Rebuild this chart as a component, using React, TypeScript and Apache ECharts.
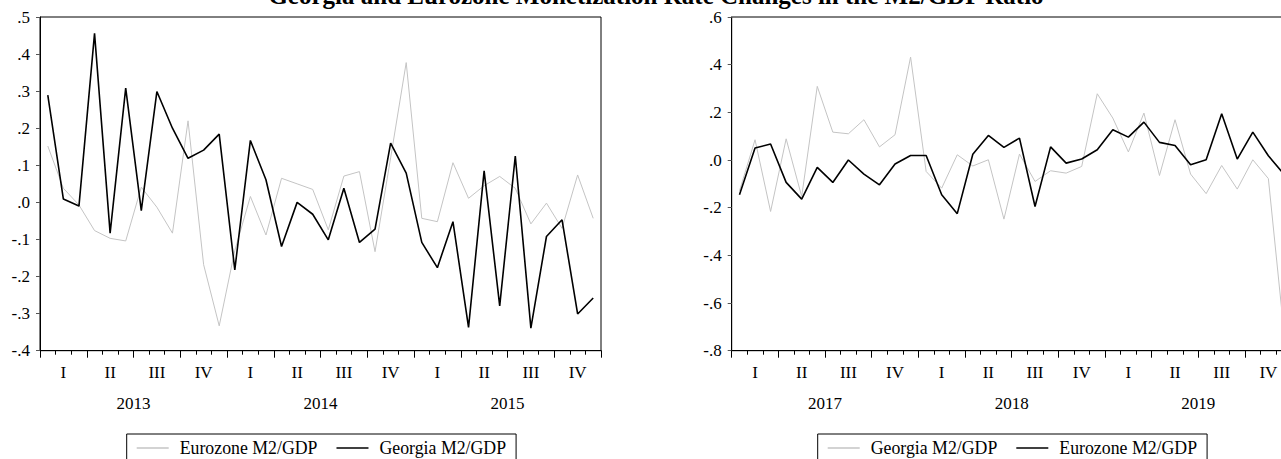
import React, { useEffect, useRef } from "react";
import * as echarts from "echarts";

const titleText = "Georgia and Eurozone Monetization Rate Changes in the M2/GDP Ratio";

const leftYears = ["2013", "2014", "2015"];
const rightYears = ["2017", "2018", "2019"];
const quarterLabels = ["I", "II", "III", "IV"];
const monthNames = ["M01", "M02", "M03", "M04", "M05", "M06", "M07", "M08", "M09", "M10", "M11", "M12"];

// Left panel (2013-2015)
const leftEurozone = [
  0.152, 0.038, -0.007, -0.076, -0.097, -0.104, 0.041, -0.013, -0.083, 0.22, -0.168, -0.333,
  -0.13, 0.016, -0.088, 0.065, 0.05, 0.035, -0.074, 0.071, 0.083, -0.133, 0.12, 0.377,
  -0.043, -0.052, 0.107, 0.011, 0.045, 0.07, 0.038, -0.058, -0.002, -0.07, 0.074, -0.043,
];
const leftGeorgia = [
  0.289, 0.009, -0.01, 0.456, -0.083, 0.308, -0.022, 0.299, 0.2, 0.119, 0.141, 0.184,
  -0.182, 0.167, 0.061, -0.119, 0.0, -0.032, -0.101, 0.038, -0.108, -0.072, 0.16, 0.079,
  -0.108, -0.176, -0.052, -0.337, 0.085, -0.279, 0.125, -0.339, -0.092, -0.047, -0.301, -0.258,
];

// Right panel (2017-2019)
const rightGeorgia = [
  -0.13, 0.085, -0.216, 0.089, -0.153, 0.309, 0.117, 0.11, 0.169, 0.055, 0.106, 0.432,
  -0.048, -0.118, 0.022, -0.025, 0.001, -0.248, 0.025, -0.09, -0.045, -0.055, -0.027, 0.278,
  0.176, 0.034, 0.197, -0.065, 0.169, -0.059, -0.141, -0.023, -0.122, 0.001, -0.078, -0.72,
];
const rightEurozone = [
  -0.146, 0.05, 0.067, -0.094, -0.164, -0.031, -0.094, 0.0, -0.059, -0.104, -0.017, 0.019,
  0.019, -0.146, -0.225, 0.024, 0.103, 0.053, 0.092, -0.195, 0.055, -0.013, 0.004, 0.043,
  0.127, 0.096, 0.159, 0.074, 0.061, -0.02, 0.001, 0.194, 0.004, 0.117, 0.018, -0.06,
];

const FONT = "'Liberation Serif', 'Times New Roman', serif";
const GREY = "#c4c4c4";
const BLACK = "#000000";

const leftCats = leftYears.flatMap((y) => monthNames.map((m) => y + m));
const rightCats = rightYears.flatMap((y) => monthNames.map((m) => y + m));

const yFmt = (v: number) => {
  if (Math.abs(v) < 1e-9) return ".0";
  const s = v.toFixed(1);
  return s.startsWith("-") ? "-" + s.slice(2) : s.slice(1);
};

function xAxesFor(gridIndex: number, cats: string[], years: string[]) {
  return [
    {
      gridIndex,
      type: "category",
      position: "bottom",
      data: cats,
      boundaryGap: true,
      axisLine: { show: true, onZero: false, lineStyle: { color: BLACK, width: 1 } },
      axisTick: { show: true, interval: (i: number) => i % 3 === 0, length: 7, lineStyle: { color: BLACK } },
      axisLabel: {
        interval: (i: number) => i % 3 === 1,
        formatter: (_v: string, i: number) => quarterLabels[Math.floor(i / 3) % 4],
        margin: 13,
        fontFamily: FONT,
        fontSize: 17,
        color: BLACK,
      },
      splitLine: { show: false },
    },
    {
      gridIndex,
      type: "category",
      position: "bottom",
      data: cats,
      boundaryGap: true,
      axisLine: { show: false, onZero: false },
      axisTick: { show: true, interval: 0, length: 4, lineStyle: { color: BLACK } },
      axisLabel: { show: false },
      splitLine: { show: false },
    },
    {
      gridIndex,
      type: "category",
      position: "bottom",
      data: years,
      boundaryGap: true,
      axisLine: { show: false, onZero: false },
      axisTick: { show: false },
      axisLabel: { margin: 44, fontFamily: FONT, fontSize: 17, color: BLACK },
      splitLine: { show: false },
    },
  ];
}

function yAxisFor(gridIndex: number, min: number, max: number, interval: number) {
  return {
    gridIndex,
    type: "value",
    min,
    max,
    interval,
    axisLine: { show: true, onZero: false, lineStyle: { color: BLACK, width: 1 } },
    axisTick: { show: true, length: 4, lineStyle: { color: "#555" } },
    axisLabel: { formatter: yFmt, margin: 10, fontFamily: FONT, fontSize: 17, color: BLACK },
    splitLine: { show: false },
  };
}

function legendFor(left: number, names: string[]) {
  return {
    left,
    top: 434,
    orient: "horizontal",
    data: names.map((n) => ({ name: n, icon: "rect" })),
    itemWidth: 32,
    itemHeight: 1.5,
    itemGap: 19,
    padding: [5, 10, 25, 10],
    borderColor: BLACK,
    borderWidth: 1,
    selectedMode: false,
    formatter: (n: string) => n.split("|")[0],
    textStyle: { fontFamily: FONT, fontSize: 17.8, color: BLACK, padding: [0, 0, 0, 6] },
  };
}

export default function App() {
  const ref = useRef<HTMLDivElement>(null);

  useEffect(() => {
    if (!ref.current) return;
    const chart = echarts.init(ref.current, undefined, { renderer: "svg" });
    const option: any = {
      animation: false,
      backgroundColor: "#ffffff",
      graphic: [
        {
          type: "text",
          x: 656,
          y: -17,
          style: {
            text: titleText,
            fontFamily: FONT,
            fontSize: 25,
            fontWeight: "bold",
            fill: BLACK,
            align: "center",
            verticalAlign: "top",
          },
        },
      ],
      grid: [
        { left: 40, top: 17, width: 561, height: 333.7, show: true, borderColor: BLACK, borderWidth: 1, backgroundColor: "transparent" },
        { left: 731.7, top: 17, width: 560, height: 333.7, show: true, borderColor: BLACK, borderWidth: 1, backgroundColor: "transparent" },
      ],
      xAxis: [...xAxesFor(0, leftCats, leftYears), ...xAxesFor(1, rightCats, rightYears)],
      yAxis: [yAxisFor(0, -0.4, 0.5, 0.1), yAxisFor(1, -0.8, 0.6, 0.2)],
      legend: [
        legendFor(126.7, ["Eurozone M2/GDP", "Georgia M2/GDP"]),
        legendFor(817.7, ["Georgia M2/GDP|R", "Eurozone M2/GDP|R"]),
      ],
      series: [
        {
          name: "Eurozone M2/GDP",
          type: "line",
          xAxisIndex: 0,
          yAxisIndex: 0,
          data: leftEurozone,
          symbol: "none",
          color: GREY,
          lineStyle: { color: GREY, width: 1 },
          z: 2,
        },
        {
          name: "Georgia M2/GDP",
          type: "line",
          xAxisIndex: 0,
          yAxisIndex: 0,
          data: leftGeorgia,
          symbol: "none",
          color: BLACK,
          lineStyle: { color: BLACK, width: 1.6 },
          z: 3,
        },
        {
          name: "Georgia M2/GDP|R",
          type: "line",
          xAxisIndex: 3,
          yAxisIndex: 1,
          data: rightGeorgia,
          symbol: "none",
          color: GREY,
          lineStyle: { color: GREY, width: 1 },
          z: 2,
        },
        {
          name: "Eurozone M2/GDP|R",
          type: "line",
          xAxisIndex: 3,
          yAxisIndex: 1,
          data: rightEurozone,
          symbol: "none",
          color: BLACK,
          lineStyle: { color: BLACK, width: 1.6 },
          z: 3,
        },
      ],
    };
    chart.setOption(option);
    return () => chart.dispose();
  }, []);

  return (
    <div style={{ position: "fixed", left: 0, top: 0, width: 1281, height: 459, overflow: "hidden", background: "#fff" }}>
      <div ref={ref} style={{ width: 1300, height: 459 }} />
    </div>
  );
}
